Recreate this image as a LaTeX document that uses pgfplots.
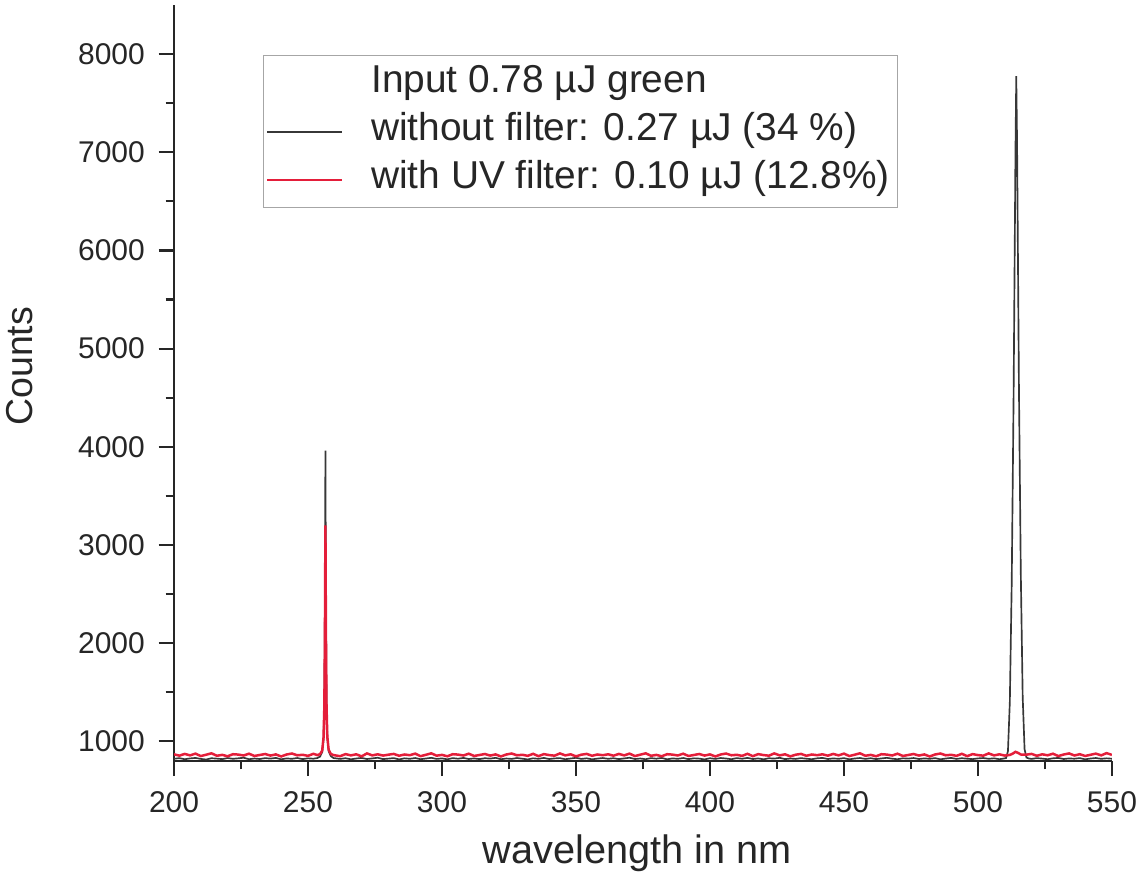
\documentclass[border=0pt]{standalone}
\usepackage{fontspec}
\setmainfont{Liberation Sans}
\usepackage{pgfplots}
\pgfplotsset{compat=1.18}
\definecolor{specred}{RGB}{228,30,58}
\definecolor{specblack}{RGB}{55,55,55}
\begin{document}
\begin{tikzpicture}
\begin{axis}[
  name=ax,
  scale only axis, width=337.95pt, height=272.4pt,
  xmin=200, xmax=550, ymin=800, ymax=8500,
  axis lines*=left,
  axis line style={line width=0.8pt, black!85},
  tick align=outside,
  major tick length=5.5pt, minor tick length=3pt,
  tick style={line width=0.8pt, black!85},
  xtick={200,250,...,550}, minor x tick num=1,
  ytick={1000,2000,...,8000}, minor y tick num=1,
  scaled ticks=false,
  /pgf/number format/1000 sep={},
  /pgf/number format/assume math mode=true,
  tick label style={font=\fontsize{10.8}{13}\selectfont, text=black!85},
  yticklabel style={xshift=-1.5pt},
  xticklabel style={yshift=-2pt},
  xlabel={wavelength in nm},
  ylabel={Counts},
  every axis x label/.style={at={(axis description cs:0.494,-0.136)}, anchor=base, font=\fontsize{14.3}{16}\selectfont, text=black!85},
  every axis y label/.style={at={(axis description cs:-0.165,0.522)}, rotate=90, anchor=center, font=\fontsize{13.5}{16}\selectfont, text=black!85},
  legend cell align=left,
  legend style={at={(rel axis cs:0.0949,0.934)}, anchor=north west, draw=gray!70, font=\fontsize{14}{16}\selectfont, inner xsep=1pt, inner ysep=1.5pt, column sep=8pt, row sep=0pt, nodes={inner sep=2pt, text height=10pt, text depth=3.3pt, text=black!85}},
  legend image code/.code={\draw[#1, line width=0.8pt] (0pt,0pt) -- (27pt,0pt);},
]
\addlegendimage{empty legend}
\addlegendentry{Input 0.78 µJ green}

\addplot[specblack, line width=0.6pt] coordinates {
(200,822) (202,829) (204,818) (206,826) (208,831) (210,821) (212,815) (214,828) (216,824) (218,819)
(220,830) (222,822) (224,827) (226,833) (228,818) (230,825) (232,820) (234,829) (236,824) (238,831)
(240,817) (242,826) (244,822) (246,830) (248,819) (250,827) (252,823)
(253.5,830) (254.5,845) (255.3,890) (255.8,1020) (256.1,1400) (256.3,2300) (256.5,3960)
(256.7,2400) (256.9,1450) (257.2,1040) (257.7,900) (258.5,850) (259.5,830)
(262,821) (264,828) (266,817) (268,825) (270,831) (272,820) (274,826) (276,833) (278,819) (280,824)
(282,829) (284,816) (286,827) (288,822) (290,830) (292,818) (294,825) (296,832) (298,821) (300,826)
(302,817) (304,829) (306,823) (308,831) (310,820) (312,826) (314,819) (316,828) (318,824) (320,832)
(322,818) (324,825) (326,821) (328,830) (330,823) (332,816) (334,827) (336,822) (338,831) (340,820)
(342,826) (344,829) (346,818) (348,825) (350,832) (352,821) (354,827) (356,817) (358,824) (360,830)
(362,822) (364,828) (366,819) (368,826) (370,833) (372,820) (374,825) (376,818) (378,829) (380,823)
(382,831) (384,817) (386,826) (388,822) (390,830) (392,819) (394,827) (396,824) (398,816) (400,828)
(402,821) (404,830) (406,825) (408,818) (410,829) (412,823) (414,831) (416,820) (418,826) (420,817)
(422,828) (424,824) (426,832) (428,819) (430,825) (432,821) (434,829) (436,823) (438,818) (440,827)
(442,831) (444,820) (446,826) (448,822) (450,829) (452,817) (454,825) (456,830) (458,821) (460,828)
(462,819) (464,826) (466,832) (468,823) (470,818) (472,827) (474,824) (476,830) (478,820) (480,826)
(482,822) (484,829) (486,817) (488,825) (490,831) (492,821) (494,828) (496,823) (498,819) (500,826)
(502,830) (504,822) (506,827) (508,818) (509.5,824) (510.5,830)
(511.2,900) (511.9,1400) (512.6,2600) (513.3,4500) (514.0,7000) (514.3,7775) (514.6,7100)
(515.3,4600) (516.0,2700) (516.7,1450) (517.4,920) (518.1,835)
(519,825) (520,821) (522,829) (524,824) (526,818) (528,827) (530,831) (532,820) (534,826) (536,823)
(538,829) (540,817) (542,825) (544,830) (546,822) (548,827) (550,823)
};
\addlegendentry{without filter: 0.27 µJ (34 \%)}

\addplot[specred, line width=0.9pt] coordinates {
(200,868) (202,854) (204,872) (206,857) (208,875) (210,850) (212,864) (214,878) (216,853) (218,862)
(220,848) (222,869) (224,865) (226,856) (228,874) (230,851) (232,861) (234,871) (236,855) (238,867)
(240,846) (242,866) (244,876) (246,858) (248,863) (250,852) (252,873)
(253.5,860) (254.5,870) (255.3,905) (255.8,1040) (256.1,1350) (256.3,2000) (256.5,3200)
(256.7,2050) (256.9,1380) (257.2,1050) (257.7,915) (258.5,872) (259.5,860)
(262,849) (264,870) (266,857) (268,868) (270,847) (272,877) (274,857) (276,868) (278,855) (280,864)
(282,872) (284,853) (286,866) (288,859) (290,875) (292,849) (294,863) (296,878) (298,854) (300,862)
(302,848) (304,869) (306,865) (308,856) (310,874) (312,851) (314,861) (316,871) (318,855) (320,867)
(322,846) (324,866) (326,876) (328,858) (330,863) (332,852) (334,873) (336,849) (338,870) (340,860)
(342,854) (344,877) (346,857) (348,868) (350,847) (352,864) (354,872) (356,853) (358,866) (360,859)
(362,868) (364,854) (366,872) (368,857) (370,875) (372,850) (374,864) (376,878) (378,853) (380,862)
(382,848) (384,869) (386,865) (388,856) (390,874) (392,851) (394,861) (396,871) (398,855) (400,867)
(402,846) (404,866) (406,876) (408,858) (410,863) (412,852) (414,873) (416,849) (418,870) (420,860)
(422,854) (424,877) (426,857) (428,868) (430,847) (432,864) (434,872) (436,853) (438,866) (440,859)
(442,868) (444,854) (446,872) (448,857) (450,875) (452,850) (454,864) (456,878) (458,853) (460,862)
(462,848) (464,869) (466,865) (468,856) (470,874) (472,851) (474,861) (476,871) (478,855) (480,867)
(482,846) (484,866) (486,876) (488,858) (490,863) (492,852) (494,873) (496,849) (498,870) (500,860)
(502,854) (504,877) (506,857) (508,868) (510,855) (512,862)
(513,875) (514,893) (515,882) (516,866)
(518,864) (520,872) (522,853) (524,868) (526,858) (528,874) (530,850) (532,866) (534,877) (536,856)
(538,869) (540,851) (542,863) (544,875) (546,857) (548,880) (550,862)
};
\addlegendentry{with UV filter: 0.10 µJ (12.8\%)}
\end{axis}
\pgfresetboundingbox
\path ([xshift=-62.7pt,yshift=-42.5pt]ax.south west) rectangle ([xshift=9.4pt,yshift=1.8pt]ax.north east);
\end{tikzpicture}
\end{document}
